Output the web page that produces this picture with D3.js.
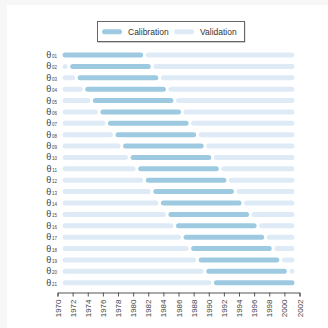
<!DOCTYPE html>
<html><head><meta charset="utf-8">
<script src="https://cdn.jsdelivr.net/npm/d3@7"></script>
<style>
html,body{margin:0;padding:0;background:#f7f7f7;}
svg{display:block;font-family:"Liberation Sans",Arial,sans-serif;}
</style></head>
<body>
<svg id="chart" width="328" height="328"></svg>
<script>
const periods = ["01","02","03","04","05","06","07","08","09","10","11","12","13","14","15","16","17","18","19","20","21"];
const calStart = [1971,1972,1973,1974,1975,1976,1977,1978,1979,1980,1981,1982,1983,1984,1985,1986,1987,1988,1989,1990,1991];
const calEnd   = [1981,1982,1983,1984,1985,1986,1987,1988,1989,1990,1991,1992,1993,1994,1995,1996,1997,1998,1999,2000,2001];
const preValStart = [null,1971,1971,1971,1971,1971,1971,1971,1971,1971,1971,1971,1971,1971,1971,1971,1971,1971,1971,1971,1971];
const preValEnd   = [null,1971,1972,1973,1974,1975,1976,1977,1978,1979,1980,1981,1982,1983,1984,1985,1986,1987,1988,1989,1990];
const postValStart = [1982,1983,1984,1985,1986,1987,1988,1989,1990,1991,1992,1993,1994,1995,1996,1997,1998,1999,2000,2001,null];
const postValEnd   = [2001,2001,2001,2001,2001,2001,2001,2001,2001,2001,2001,2001,2001,2001,2001,2001,2001,2001,2001,2001,null];
const xTicks = [1970,1972,1974,1976,1978,1980,1982,1984,1986,1988,1990,1992,1994,1996,1998,2000,2002];
const legendLabels = ["Calibration","Validation"];
const colors = {cal:"#9ecae1", val:"#deebf7"};

const svg = d3.select("#chart");
svg.append("rect").attr("x",7).attr("y",5).attr("width",321).attr("height",323).attr("fill","#fff");

const x = d3.scaleLinear().domain([1970,2002]).range([57.5,299.5]);
const y = d3.scalePoint().domain(periods).range([55,282.7]);

const segs = [];
periods.forEach((p,i)=>{
  if(preValStart[i]!==null) segs.push({p, s:preValStart[i], e:preValEnd[i], t:"val"});
  segs.push({p, s:calStart[i], e:calEnd[i], t:"cal"});
  if(postValStart[i]!==null) segs.push({p, s:postValStart[i], e:postValEnd[i], t:"val"});
});

svg.append("g").selectAll("line").data(segs).join("line")
  .attr("x1",d=>x(d.s)).attr("x2",d=>x(d.e))
  .attr("y1",d=>y(d.p)).attr("y2",d=>y(d.p))
  .attr("stroke",d=>colors[d.t]).attr("stroke-width",5).attr("stroke-linecap","round");

// row labels
const lab = svg.append("g").selectAll("text").data(periods).join("text")
  .attr("x",57).attr("y",d=>y(d)+3).attr("text-anchor","end").attr("fill","#444");
lab.append("tspan").attr("font-size",9).text("θ");
lab.append("tspan").attr("font-size",4.5).attr("dx",0.8).text(d=>d);

// axis
const ax = svg.append("g").attr("transform","translate(0,292.5)")
  .call(d3.axisBottom(x).tickValues(xTicks).tickFormat(d3.format("d")).tickSize(4).tickSizeOuter(4));
ax.selectAll("path,line").attr("stroke","#555");
ax.selectAll("text").attr("font-size",8).attr("fill","#444").attr("font-family","Liberation Sans, Arial, sans-serif")
  .attr("transform","rotate(-90)").attr("text-anchor","end").attr("x",-7).attr("y",0).attr("dy","0.32em");

// legend
const lg = svg.append("g");
lg.append("rect").attr("x",98).attr("y",22.5).attr("width",147).attr("height",20).attr("fill","none").attr("stroke","#ccc");
lg.append("rect").attr("x",97.5).attr("y",21.5).attr("width",147).attr("height",20).attr("fill","#fff").attr("stroke","#666");
const items = [{l:legendLabels[0],c:colors.cal,x:104.5},{l:legendLabels[1],c:colors.val,x:176.5}];
items.forEach(it=>{
  lg.append("line").attr("x1",it.x).attr("x2",it.x+15).attr("y1",31.8).attr("y2",31.8)
    .attr("stroke",it.c).attr("stroke-width",5).attr("stroke-linecap","round");
  lg.append("text").attr("x",it.x+23.5).attr("y",34.8).attr("font-size",8.5).attr("fill","#333").text(it.l);
});
</script>
</body></html>
